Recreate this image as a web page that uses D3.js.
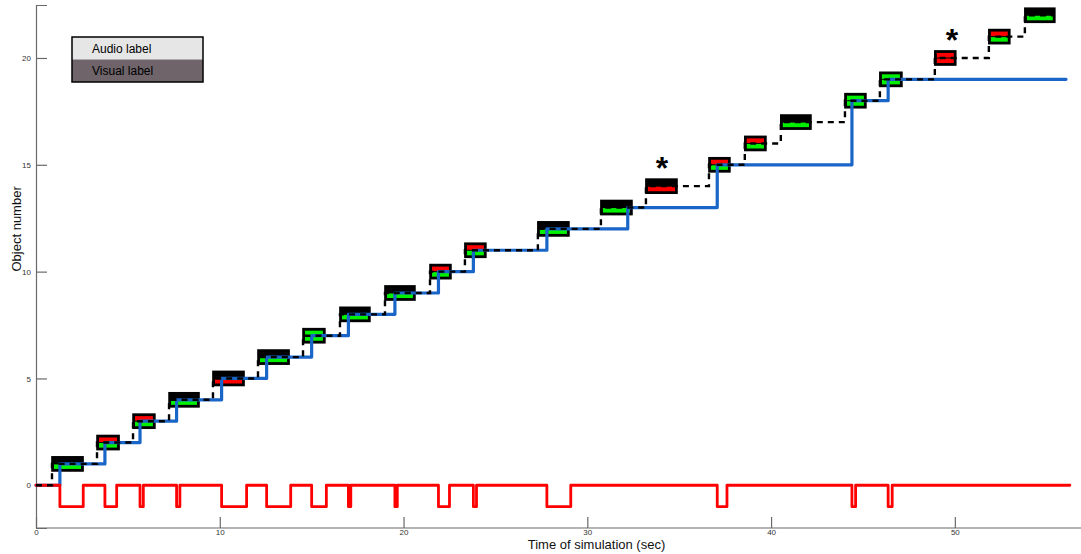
<!DOCTYPE html>
<html>
<head>
<meta charset="utf-8">
<script src="https://cdn.jsdelivr.net/npm/d3@7"></script>
<style>
  html, body { margin: 0; padding: 0; background: #ffffff; }
  svg { display: block; }
  text { font-family: "Liberation Sans", Arial, Helvetica, sans-serif; }
</style>
</head>
<body>
<svg id="chart" width="1081" height="554"></svg>
<script>
// Object boxes: start / end time (sec) of each detected object, levels 1..22
const boxStart = [0.87, 3.32, 5.28, 7.24, 9.63, 12.08, 14.53, 16.54, 18.99, 21.44, 23.34,
                  27.31, 30.74, 33.19, 36.62, 38.57, 40.53, 44.02, 45.92, 48.91, 51.85, 53.81];
const boxEnd   = [2.56, 4.52, 6.47, 8.87, 11.32, 13.77, 15.72, 18.17, 20.62, 22.58, 24.48,
                  29.00, 32.43, 34.88, 37.76, 39.72, 42.17, 45.16, 47.12, 50.05, 52.99, 55.44];
// Label outcome per object: "none" (no label), "wrong", "right"
const audioLabel  = ["none", "wrong", "wrong", "none", "none", "none", "right", "none", "none", "wrong", "wrong",
                     "none", "none", "none", "wrong", "wrong", "none", "right", "right", "wrong", "wrong", "none"];
const visualLabel = ["right", "right", "right", "right", "wrong", "right", "right", "right", "right", "right", "right",
                     "right", "right", "wrong", "right", "right", "right", "right", "right", "wrong", "right", "right"];
// Objects marked with an asterisk (level) and where the mark sits (sec)
const starLevel = [14, 20];
const starTime  = [34.06, 49.84];

// Counted objects over time (step function)
const countTime  = [0, 1.30, 3.75, 5.66, 7.65, 10.10, 12.55, 15.00, 17.00, 19.53, 21.90, 23.80,
                    27.80, 32.20, 37.07, 44.40, 46.37];
const countLevel = [0, 1, 2, 3, 4, 5, 6, 7, 8, 9, 10, 11, 12, 13, 15, 18, 19];
const countEnd = 56.05;

// Event signal: drops to -1 between dipStart and dipEnd
const dipStart = [1.30, 3.75, 5.66, 7.65, 10.10, 12.55, 15.00, 17.00, 19.53, 21.90, 23.80, 27.80, 37.07, 44.40, 46.37];
const dipEnd   = [2.57, 4.39, 5.84, 7.83, 11.46, 13.86, 15.80, 17.13, 19.66, 22.50, 23.97, 29.10, 37.60, 44.60, 46.59];
const signalEnd = 56.26;

const xTicks = [0, 10, 20, 30, 40, 50];
const yTicks = [0, 5, 10, 15, 20];

const legendItems = ["Audio label", "Visual label"];

const svg = d3.select("#chart");

const x = d3.scaleLinear().domain([0, 61]).range([36, 1157]);
const y = d3.scaleLinear().domain([-2, 22.48]).range([528, 5]);
const labelColor = d3.scaleOrdinal().domain(["none", "wrong", "right"]).range(["#000000", "#ff0000", "#00f000"]);

// Axes (MATLAB style: inward ticks)
const axisColor = "#6a6a6a";
const xAxis = svg.append("g").attr("transform", `translate(0,${y(-2)})`)
  .call(d3.axisBottom(x).tickValues(xTicks).tickSize(-11).tickPadding(3).tickFormat(d3.format("d")));
const yAxis = svg.append("g").attr("transform", `translate(${x(0)},0)`)
  .call(d3.axisLeft(y).tickValues(yTicks).tickSize(-11).tickPadding(5).tickFormat(d3.format("d")));
[xAxis, yAxis].forEach(a => {
  a.select(".domain").attr("stroke", axisColor).attr("stroke-width", 1.2);
  a.selectAll(".tick line").attr("stroke", axisColor).attr("stroke-width", 1.2);
  a.selectAll(".tick text").attr("fill", "#333").style("font-size", "8px");
});
xAxis.select(".domain").attr("d", `M${x(0)},0H1081`);
xAxis.selectAll(".tick text").attr("dy", "0.5em");

// Axis titles
svg.append("text")
  .attr("x", (x(0) + x(61)) / 2).attr("y", 549)
  .attr("text-anchor", "middle").style("font-size", "13px").attr("fill", "#111")
  .text("Time of simulation (sec)");
svg.append("text")
  .attr("transform", `translate(20.5,${y(12)}) rotate(-90)`)
  .attr("text-anchor", "middle").style("font-size", "13px").attr("fill", "#111")
  .text("Object number");

// Object boxes: top half = audio label, bottom half = visual label
const boxH = 0.66;
const boxes = svg.append("g").selectAll("g").data(boxStart).join("g");
boxes.each(function (s, i) {
  const g = d3.select(this);
  const level = i + 1;
  const x0 = x(s), x1 = x(boxEnd[i]);
  const yTop = y(level + boxH / 2), yBot = y(level - boxH / 2), yMid = y(level);
  g.append("rect").attr("x", x0).attr("y", yTop).attr("width", x1 - x0).attr("height", yBot - yTop)
    .attr("fill", "#000").attr("stroke", "#000").attr("stroke-width", 1.6);
  g.append("rect").attr("x", x0 + 2).attr("y", yTop + 2).attr("width", x1 - x0 - 4).attr("height", yMid - yTop - 2.5)
    .attr("fill", labelColor(audioLabel[i]));
  g.append("rect").attr("x", x0 + 2).attr("y", yMid + 0.5).attr("width", x1 - x0 - 4).attr("height", yBot - yMid - 2.5)
    .attr("fill", labelColor(visualLabel[i]));
});

const stepLine = d3.line().x(d => x(d[0])).y(d => y(d[1])).curve(d3.curveStepAfter);

// Counted objects (blue)
const countPts = countTime.map((t, i) => [t, countLevel[i]]);
countPts.push([countEnd, countLevel[countLevel.length - 1]]);
svg.append("path").attr("d", stepLine(countPts))
  .attr("fill", "none").attr("stroke", "#1a66c8").attr("stroke-width", 3.2)
  .attr("stroke-linejoin", "round").attr("stroke-linecap", "round");

// Event signal (red)
const sigPts = [[0, 0]];
dipStart.forEach((s, i) => { sigPts.push([s, -1]); sigPts.push([dipEnd[i], 0]); });
sigPts.push([signalEnd, 0]);
svg.append("path").attr("d", stepLine(sigPts))
  .attr("fill", "none").attr("stroke", "#ff0000").attr("stroke-width", 2.8)
  .attr("stroke-linejoin", "round").attr("stroke-linecap", "round");

// True object number (black dashed)
const truePts = [[0, 0]];
boxStart.forEach((s, i) => truePts.push([s, i + 1]));
truePts.push([boxEnd[boxEnd.length - 1], boxStart.length]);
svg.append("path").attr("d", stepLine(truePts))
  .attr("fill", "none").attr("stroke", "#000").attr("stroke-width", 2.4)
  .attr("stroke-dasharray", "6,5");

// Asterisks
svg.append("g").selectAll("text").data(starTime).join("text")
  .attr("x", d => x(d)).attr("y", (d, i) => y(starLevel[i] + 1) + 14)
  .attr("text-anchor", "middle").style("font-size", "32px").style("font-weight", "bold")
  .attr("fill", "#000").text("*");

// Legend
const lg = svg.append("g").attr("transform", "translate(72,37)");
const legendFill = ["#e6e6e6", "#6e6469"];
lg.selectAll("rect.item").data(legendItems).join("rect").attr("class", "item")
  .attr("x", 0).attr("y", (d, i) => i * 22.5).attr("width", 131).attr("height", 22.5)
  .attr("fill", (d, i) => legendFill[i]);
lg.append("rect").attr("width", 131).attr("height", 45).attr("fill", "none")
  .attr("stroke", "#000").attr("stroke-width", 1.5);
lg.selectAll("text").data(legendItems).join("text")
  .attr("x", 20).attr("y", (d, i) => 15.5 + i * 22.5)
  .style("font-size", "12px").attr("fill", "#000").text(d => d);
</script>
</body>
</html>
